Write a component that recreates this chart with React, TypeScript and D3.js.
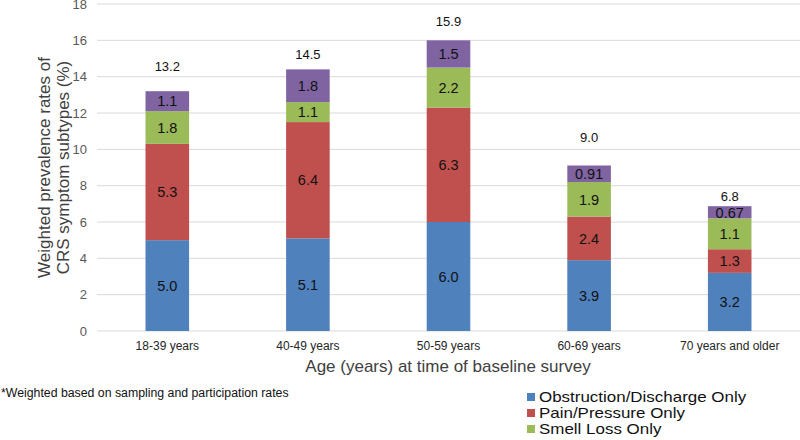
import React from "react";
import * as d3 from "d3";

// age groups on the x axis
const categories = [
  "18-39 years",
  "40-49 years",
  "50-59 years",
  "60-69 years",
  "70 years and older",
];

// stacked segments (bottom to top), as drawn
const obstruction = [5.0, 5.1, 6.0, 3.9, 3.2];
const pain = [5.3, 6.4, 6.3, 2.4, 1.3];
const smell = [1.8, 1.1, 2.2, 1.9, 1.7];
const combined = [1.1, 1.8, 1.5, 0.91, 0.67];

// printed labels inside the segments
const obstructionLabels = ["5.0", "5.1", "6.0", "3.9", "3.2"];
const painLabels = ["5.3", "6.4", "6.3", "2.4", "1.3"];
const smellLabels = ["1.8", "1.1", "2.2", "1.9", "1.1"];
const combinedLabels = ["1.1", "1.8", "1.5", "0.91", "0.67"];

// totals printed above the bars, and the value height they sit at
const totalLabels = ["13.2", "14.5", "15.9", "9.0", "6.8"];
const totalLabelAt = [14.55, 15.25, 17.05, 10.65, 7.4];

const yTicks = [0, 2, 4, 6, 8, 10, 12, 14, 16, 18];

const seriesNames = [
  "Obstruction/Discharge Only",
  "Pain/Pressure Only",
  "Smell Loss Only",
];

const keys = ["obstruction", "pain", "smell", "combined"];
const colors = ["#4f81bd", "#c0504d", "#9bbb59", "#8064a2"];
const labelSets = [obstructionLabels, painLabels, smellLabels, combinedLabels];

const font = "'Liberation Sans', Arial, sans-serif";

export default function App() {
  const width = 800;
  const height = 440;
  const plot = { left: 97, right: 800, top: 4, bottom: 331 };

  const table = categories.map((c, i) => ({
    name: c,
    obstruction: obstruction[i],
    pain: pain[i],
    smell: smell[i],
    combined: combined[i],
  }));

  const stacked = d3.stack<any>().keys(keys)(table);

  const x = d3
    .scaleBand()
    .domain(categories)
    .range([plot.left, plot.right])
    .paddingInner(0.69)
    .paddingOuter(0.345);

  const y = d3.scaleLinear().domain([0, 18]).range([plot.bottom, plot.top]);

  return (
    <svg
      width={width}
      height={height}
      style={{ position: "fixed", left: 0, top: 0, background: "#fff" }}
      fontFamily={font}
    >
      {/* gridlines + y ticks */}
      {yTicks.map((t) => (
        <g key={t}>
          <line
            x1={plot.left}
            x2={plot.right}
            y1={y(t)}
            y2={y(t)}
            stroke="#d9d9d9"
            strokeWidth={1}
          />
          <text
            x={87}
            y={y(t)}
            dy="0.35em"
            textAnchor="end"
            fontSize={13}
            fill="#595959"
          >
            {t}
          </text>
        </g>
      ))}

      {/* bars */}
      {stacked.map((layer, si) => (
        <g key={layer.key} fill={colors[si]}>
          {layer.map((d, i) => (
            <rect
              key={i}
              x={x(categories[i])}
              y={y(d[1])}
              width={x.bandwidth()}
              height={y(d[0]) - y(d[1])}
            />
          ))}
        </g>
      ))}

      {/* segment labels */}
      {stacked.map((layer, si) => (
        <g key={"l" + layer.key}>
          {layer.map((d, i) => (
            <text
              key={i}
              x={(x(categories[i]) as number) + x.bandwidth() / 2}
              y={(y(d[0]) + y(d[1])) / 2}
              dy="0.36em"
              textAnchor="middle"
              fontSize={14.5}
              fill="#111"
            >
              {labelSets[si][i]}
            </text>
          ))}
        </g>
      ))}

      {/* totals */}
      {totalLabels.map((t, i) => (
        <text
          key={t}
          x={(x(categories[i]) as number) + x.bandwidth() / 2}
          y={y(totalLabelAt[i])}
          dy="0.36em"
          textAnchor="middle"
          fontSize={13}
          fill="#111"
        >
          {t}
        </text>
      ))}

      {/* x tick labels */}
      {categories.map((c) => (
        <text
          key={c}
          x={(x(c) as number) + x.bandwidth() / 2}
          y={350}
          textAnchor="middle"
          fontSize={12}
          fill="#262626"
        >
          {c}
        </text>
      ))}

      {/* axis titles */}
      <text
        x={448}
        y={372}
        textAnchor="middle"
        fontSize={17}
        fill="#404040"
      >
        Age (years) at time of baseline survey
      </text>
      <g transform={`translate(50,${(plot.top + plot.bottom) / 2}) rotate(-90)`}>
        <text textAnchor="middle" fontSize={17} fill="#404040">
          Weighted prevalence rates of
        </text>
        <text y={19} textAnchor="middle" fontSize={17} fill="#404040">
          CRS symptom subtypes (%)
        </text>
      </g>

      {/* footnote */}
      <text x={1} y={397} fontSize={12.3} fill="#111">
        *Weighted based on sampling and participation rates
      </text>

      {/* legend */}
      {seriesNames.map((s, i) => (
        <g key={s} transform={`translate(527,${393 + i * 16})`}>
          <rect width={8} height={8} fill={colors[i]} />
          <text
            transform="translate(12,8.6) scale(1.13,1)"
            fontSize={15}
            fill="#111"
          >
            {s}
          </text>
        </g>
      ))}
    </svg>
  );
}
